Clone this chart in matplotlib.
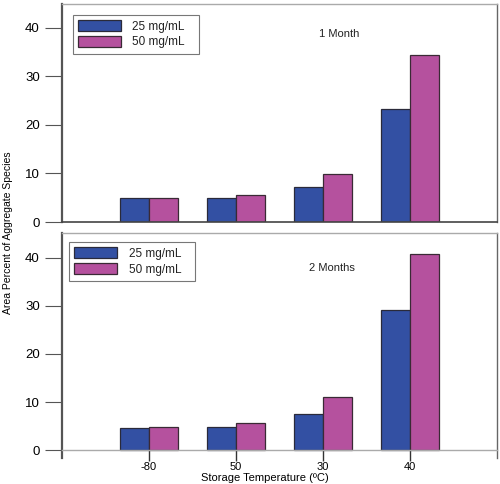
import matplotlib.pyplot as plt
import numpy as np

plt.rcParams["font.family"] = ["Liberation Sans", "DejaVu Sans"]

# Data
temps = ["-80", "50", "30", "40"]
month1_25 = [5.0, 5.0, 7.2, 23.2]
month1_50 = [5.0, 5.5, 9.8, 34.5]
month2_25 = [4.7, 4.8, 7.6, 29.2]
month2_50 = [4.9, 5.7, 11.0, 40.8]
series_labels = ["25 mg/mL", "50 mg/mL"]
panel_titles = ["1 Month", "2 Months"]

blue = "#3350a3"
pink = "#b5519e"

fig = plt.figure(figsize=(5, 4.84), dpi=100)
ax1 = fig.add_axes([0.124, 0.5413, 0.87, 0.4504])
ax2 = fig.add_axes([0.124, 0.0537, 0.87, 0.4649])

x = np.arange(len(temps))
w = 0.333

panels = [
    (ax1, month1_25, month1_50, panel_titles[0], (0, 44.9), (339, 34), (0.025, 0.95)),
    (ax2, month2_25, month2_50, panel_titles[1], (-1.6, 45.1), (332, 268), (0.016, 0.96)),
]

for ax, a, b, title, ylim, tpos, lpos in panels:
    ax.bar(x - w / 2, a, w, color=blue, edgecolor="#2a2a3a", linewidth=0.9,
           label=series_labels[0])
    ax.bar(x + w / 2, b, w, color=pink, edgecolor="#3a2a35", linewidth=0.9,
           label=series_labels[1])
    ax.set_xlim(-1, 4)
    ax.set_ylim(*ylim)
    ax.set_yticks([0, 10, 20, 30, 40])
    ax.tick_params(axis="y", direction="out", length=12, width=0.8,
                   color="#555555", labelsize=9.5, pad=4)
    ax.spines["left"].set_color("#555555")
    ax.spines["left"].set_linewidth(1.6)
    ax.spines["top"].set_color("#aaaaaa")
    ax.spines["right"].set_color("#666666")
    ax.spines["top"].set_linewidth(1.0)
    ax.spines["right"].set_linewidth(1.0)
    ax.text(tpos[0] / 500, 1 - tpos[1] / 484, title, transform=fig.transFigure,
            ha="center", va="center", fontsize=8, color="#222222")
    leg = ax.legend(loc="upper left", bbox_to_anchor=(lpos[0], lpos[1], 0.29, 0),
                    mode="expand", fontsize=8.5,
                    frameon=True, fancybox=False, edgecolor="#555555",
                    handlelength=3.6, handleheight=1.0, borderpad=0.45,
                    labelspacing=0.3, handletextpad=1.0, borderaxespad=0)
    leg.get_frame().set_linewidth(0.8)
    for t in leg.get_texts():
        t.set_color("#222222")

# top panel: no x ticks, dark baseline
ax1.set_xticks([])
ax1.spines["bottom"].set_color("#444444")
ax1.spines["bottom"].set_linewidth(1.2)

# bottom panel: baseline at zero with ticks hanging below
ax2.spines["bottom"].set_position(("data", 0))
ax2.spines["bottom"].set_color("#aaaaaa")
ax2.spines["bottom"].set_linewidth(1.0)
ax2.set_xticks(x)
ax2.set_xticklabels(temps)
ax2.tick_params(axis="x", direction="out", length=8, width=1.0,
                color="#333333", labelsize=8, pad=0.5)

fig.text(0.016, 0.52, "Area Percent of Aggregate Species", rotation=90,
         ha="center", va="center", fontsize=7.5)
fig.text(0.53, 1 - 478 / 484, "Storage Temperature (\u00baC)", ha="center",
         va="center", fontsize=8)

fig.savefig("out.png", dpi=100)
